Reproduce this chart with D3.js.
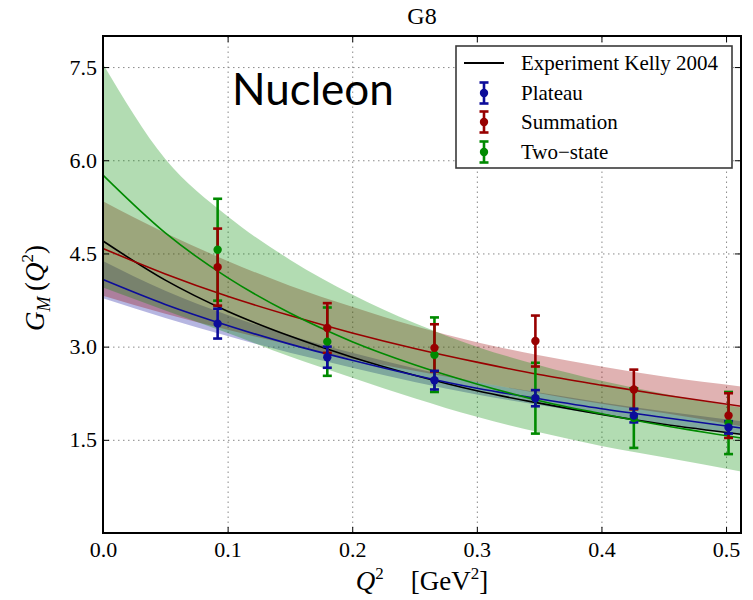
<!DOCTYPE html>
<html>
<head>
<meta charset="utf-8">
<script src="https://cdn.jsdelivr.net/npm/d3@7/dist/d3.min.js"></script>
<style>
  body { margin: 0; background: #fff; }
  svg text { font-family: "Liberation Serif", "DejaVu Serif", serif; fill: #000; }
</style>
</head>
<body>
<svg id="chart" width="753" height="600"></svg>
<script>
var qGrid     = [0, 0.05, 0.1, 0.15, 0.2, 0.25, 0.3, 0.35, 0.4, 0.45, 0.512];
var kellyLine = [4.70, 4.07, 3.57, 3.17, 2.83, 2.54, 2.29, 2.09, 1.91, 1.75, 1.59];

var plateauLine = [4.08, 3.68, 3.34, 3.04, 2.78, 2.54, 2.33, 2.16, 2.00, 1.86, 1.69];
var plateauLo   = [3.78, 3.46, 3.17, 2.90, 2.66, 2.43, 2.23, 2.06, 1.90, 1.76, 1.58];
var plateauHi   = [4.38, 3.90, 3.51, 3.18, 2.90, 2.65, 2.43, 2.26, 2.10, 1.96, 1.80];

var summationLine = [4.58, 4.17, 3.81, 3.50, 3.22, 2.97, 2.75, 2.55, 2.38, 2.22, 2.04];
var summationLo   = [3.82, 3.53, 3.27, 3.03, 2.80, 2.61, 2.43, 2.25, 2.08, 1.93, 1.72];
var summationHi   = [5.34, 4.83, 4.38, 3.98, 3.64, 3.33, 3.07, 2.86, 2.68, 2.52, 2.36];

var twoStateLine = [5.76, 4.83, 4.11, 3.54, 3.08, 2.71, 2.40, 2.13, 1.92, 1.73, 1.53];
var twoStateLo   = [3.95, 3.58, 3.22, 2.84, 2.50, 2.17, 1.87, 1.62, 1.40, 1.22, 0.99];
var twoStateHi   = [7.55, 6.02, 5.10, 4.40, 3.84, 3.38, 3.00, 2.70, 2.45, 2.24, 2.02];

// lattice points
var qPts = [0.092, 0.180, 0.266, 0.347, 0.426, 0.502];
var plateauVal   = [3.37, 2.83, 2.46, 2.17, 1.89, 1.70];
var plateauErr   = [0.24, 0.17, 0.15, 0.13, 0.11, 0.10];
var summationVal = [4.28, 3.30, 2.98, 3.09, 2.31, 1.89];
var summationErr = [0.62, 0.40, 0.38, 0.41, 0.32, 0.36];
var twoStateVal  = [4.56, 3.08, 2.87, 2.17, 1.85, 1.77];
var twoStateErr  = [0.82, 0.55, 0.60, 0.57, 0.48, 0.50];

var xTicks = [0, 0.1, 0.2, 0.3, 0.4, 0.5];
var yTicks = [1.5, 3.0, 4.5, 6.0, 7.5];
var legendNames = ["Experiment Kelly 2004", "Plateau", "Summation", "Two\u2212state"];

var BLUE = "#0c0c9a", RED = "#980000", GREEN = "#008a00";

var svg = d3.select("#chart");
var L = 103, R = 741, T = 36, B = 533;
var x = d3.scaleLinear().domain([0, 0.512]).range([L, R]);
var y = d3.scaleLinear().domain([0, 8]).range([B, T]);

// grid
var gx = svg.append("g").attr("transform", "translate(0," + B + ")")
  .call(d3.axisBottom(x).tickValues(xTicks).tickSize(-(B - T)).tickFormat(""));
var gy = svg.append("g").attr("transform", "translate(" + L + ",0)")
  .call(d3.axisLeft(y).tickValues(yTicks).tickSize(-(R - L)).tickFormat(""));
[gx, gy].forEach(function(g) {
  g.select(".domain").remove();
  g.selectAll("line").attr("stroke", "#8a8a8a").attr("stroke-width", 1)
    .attr("stroke-dasharray", "1.5,3.5");
});

var plot = svg.append("g");

var band = function(lo, hi, color) {
  var rows = qGrid.map(function(q, i) { return {q: q, lo: lo[i], hi: hi[i]}; });
  var area = d3.area()
    .x(function(d) { return x(d.q); })
    .y0(function(d) { return y(d.lo); })
    .y1(function(d) { return y(d.hi); })
    .curve(d3.curveMonotoneX);
  plot.append("path").datum(rows).attr("d", area)
    .attr("fill", color).attr("fill-opacity", 0.3).attr("stroke", "none");
};

var curve = function(vals, color) {
  var rows = qGrid.map(function(q, i) { return {q: q, v: vals[i]}; });
  var line = d3.line()
    .x(function(d) { return x(d.q); })
    .y(function(d) { return y(d.v); })
    .curve(d3.curveMonotoneX);
  plot.append("path").datum(rows).attr("d", line)
    .attr("fill", "none").attr("stroke", color).attr("stroke-width", 1.6);
};

band(plateauLo, plateauHi, BLUE);
band(summationLo, summationHi, RED);
band(twoStateLo, twoStateHi, GREEN);

curve(kellyLine, "#000");
curve(plateauLine, BLUE);
curve(summationLine, RED);
curve(twoStateLine, GREEN);

// one error bar: px, center py, half-height h
var errbar = function(g, px, py, h, color) {
  g.append("line").attr("x1", px).attr("x2", px).attr("y1", py - h).attr("y2", py + h)
    .attr("stroke", color).attr("stroke-width", 2.6);
  [py - h, py + h].forEach(function(cy) {
    g.append("line").attr("x1", px - 4.5).attr("x2", px + 4.5).attr("y1", cy).attr("y2", cy)
      .attr("stroke", color).attr("stroke-width", 2.6);
  });
};

var series = [
  {val: twoStateVal, err: twoStateErr, color: GREEN},
  {val: summationVal, err: summationErr, color: RED},
  {val: plateauVal, err: plateauErr, color: BLUE}
];
var bars = svg.append("g");
series.forEach(function(s) {
  qPts.forEach(function(q, i) {
    var py = y(s.val[i]);
    errbar(bars, x(q), py, py - y(s.val[i] + s.err[i]), s.color);
  });
});
series.forEach(function(s) {
  bars.selectAll(null).data(qPts).enter().append("circle")
    .attr("cx", function(q) { return x(q); })
    .attr("cy", function(q, i) { return y(s.val[i]); })
    .attr("r", 4.2).attr("fill", s.color);
});

// frame + inward ticks on all four sides
svg.append("rect").attr("x", L).attr("y", T).attr("width", R - L).attr("height", B - T)
  .attr("fill", "none").attr("stroke", "#000").attr("stroke-width", 2);

var ax = svg.append("g").attr("transform", "translate(0," + B + ")")
  .call(d3.axisBottom(x).tickValues(xTicks).tickSizeInner(-6).tickSizeOuter(0)
    .tickPadding(8).tickFormat(d3.format(".1f")));
var ay = svg.append("g").attr("transform", "translate(" + L + ",0)")
  .call(d3.axisLeft(y).tickValues(yTicks).tickSizeInner(-6).tickSizeOuter(0)
    .tickPadding(6).tickFormat(d3.format(".1f")));
var axt = svg.append("g").attr("transform", "translate(0," + T + ")")
  .call(d3.axisTop(x).tickValues(xTicks).tickSizeInner(-6).tickSizeOuter(0).tickFormat(""));
var ayr = svg.append("g").attr("transform", "translate(" + R + ",0)")
  .call(d3.axisRight(y).tickValues(yTicks).tickSizeInner(-6).tickSizeOuter(0).tickFormat(""));
[ax, ay, axt, ayr].forEach(function(g) {
  g.select(".domain").remove();
  g.selectAll("line").attr("stroke", "#000").attr("stroke-width", 1);
  g.selectAll("text").attr("font-family", "Liberation Serif").attr("font-size", 22).attr("fill", "#000");
});

// legend
var lg = svg.append("g");
lg.append("rect").attr("x", 456).attr("y", 46).attr("width", 276).attr("height", 122)
  .attr("fill", "#fff").attr("stroke", "#3a3a3a").attr("stroke-width", 1.6);
var rowY = [63, 93, 122, 152];
lg.append("line").attr("x1", 464).attr("x2", 504).attr("y1", rowY[0]).attr("y2", rowY[0])
  .attr("stroke", "#000").attr("stroke-width", 2);
[BLUE, RED, GREEN].forEach(function(c, i) {
  errbar(lg, 484, rowY[i + 1], 10.5, c);
  lg.append("circle").attr("cx", 484).attr("cy", rowY[i + 1]).attr("r", 4.2).attr("fill", c);
});
legendNames.forEach(function(name, i) {
  lg.append("text").attr("x", 521).attr("y", rowY[i]).attr("dy", "0.35em")
    .attr("font-size", 21).text(name);
});

// title and labels
svg.append("text").attr("x", 422).attr("y", 24).attr("text-anchor", "middle")
  .attr("font-size", 24).text("G8");

svg.append("text").attr("x", 232).attr("y", 105)
  .style("font-family", "Lato, 'Open Sans', sans-serif").attr("font-size", 44).text("Nucleon");

var xl = svg.append("text").attr("x", 422).attr("y", 590).attr("text-anchor", "middle")
  .attr("font-size", 27);
xl.append("tspan").attr("font-style", "italic").text("Q");
xl.append("tspan").attr("font-size", 17).attr("dy", -11).text("2");
xl.append("tspan").attr("dy", 11).text("\u2002\u2002[GeV");
xl.append("tspan").attr("font-size", 17).attr("dy", -11).text("2");
xl.append("tspan").attr("dy", 11).text("]");

var yl = svg.append("text").attr("transform", "translate(44,288) rotate(-90)")
  .attr("text-anchor", "middle").attr("font-size", 27);
yl.append("tspan").attr("font-style", "italic").text("G");
yl.append("tspan").attr("font-style", "italic").attr("font-size", 18).attr("dy", 6).text("M");
yl.append("tspan").attr("dy", -6).text("\u2009(");
yl.append("tspan").attr("font-style", "italic").text("Q");
yl.append("tspan").attr("font-size", 17).attr("dy", -11).text("2");
yl.append("tspan").attr("dy", 11).text(")");
</script>
</body>
</html>
